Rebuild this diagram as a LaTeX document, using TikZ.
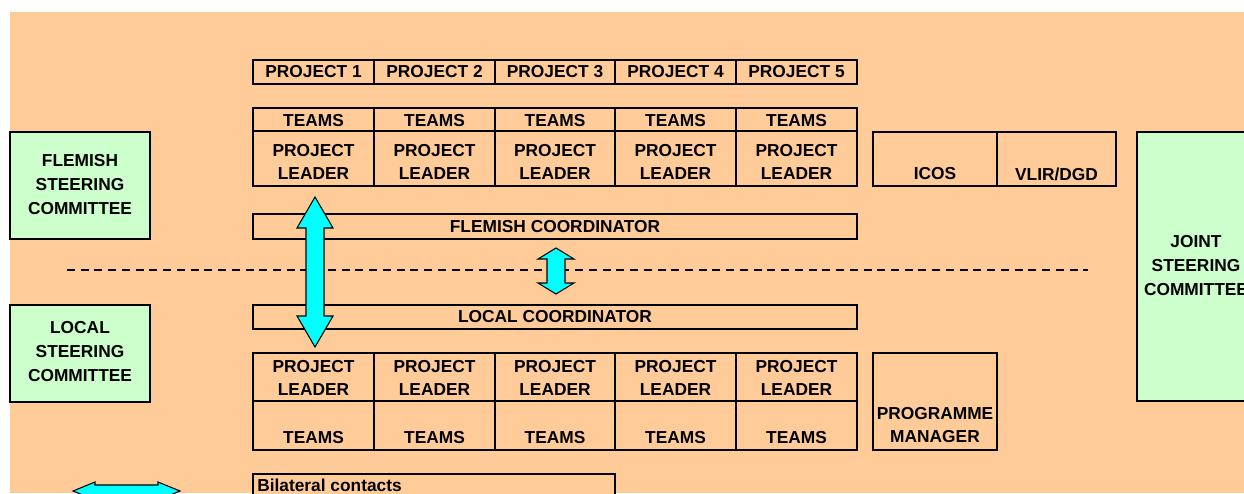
\documentclass[tikz,border=0pt]{standalone}
\usepackage{fontspec}
\setmainfont{Liberation Sans}
\definecolor{peach}{HTML}{FFCC99}
\definecolor{mint}{HTML}{CCFFCC}
\definecolor{aqua}{HTML}{00FFFF}
\tikzset{
  cell/.style={draw=black, line width=1.5pt, fill=peach, inner sep=0pt, outer sep=0pt},
  greencell/.style={cell, fill=mint},
  lbl/.style={font=\fontsize{13}{17.25}\selectfont\bfseries, align=center, inner sep=0pt},
  lblwide/.style={font=\fontsize{13}{18}\selectfont\bfseries, align=center, inner sep=0pt},
  blockarrow/.style={fill=aqua, draw=black, line width=0.8pt, line join=miter},
  divider/.style={draw=black, line width=1.1pt, dash pattern=on 6pt off 4.3pt}
}
% #1 style, #2 name, #3 x1, #4 y1, #5 x2, #6 y2 (pixel coordinates)
\newcommand\boxnode[6]{%
  \node[#1, minimum width={(#5-#3)*0.75pt}, minimum height={(#6-#4)*0.75pt}]
    (#2) at ({(#3+#5)/2},{(#4+#6)/2}) {};}
% vertical double block arrow: xc, ytop, ybot, head half width, shaft half width, head length
\newcommand\vdarr[6]{%
  \filldraw[blockarrow] (#1,#2) -- ({#1+#4},{#2+#6}) -- ({#1+#5},{#2+#6}) -- ({#1+#5},{#3-#6})
   -- ({#1+#4},{#3-#6}) -- (#1,#3) -- ({#1-#4},{#3-#6}) -- ({#1-#5},{#3-#6})
   -- ({#1-#5},{#2+#6}) -- ({#1-#4},{#2+#6}) -- cycle;}
% horizontal double block arrow: yc, xleft, xright, head half width, shaft half width, head length
\newcommand\hdarr[6]{%
  \filldraw[blockarrow] (#2,#1) -- ({#2+#6},{#1-#4}) -- ({#2+#6},{#1-#5}) -- ({#3-#6},{#1-#5})
   -- ({#3-#6},{#1-#4}) -- (#3,#1) -- ({#3-#6},{#1+#4}) -- ({#3-#6},{#1+#5})
   -- ({#2+#6},{#1+#5}) -- ({#2+#6},{#1+#4}) -- cycle;}
\begin{document}
\begin{tikzpicture}[x=0.75pt, y=-0.75pt]
\useasboundingbox (0,0) rectangle (1244,493);
\clip (0,0) rectangle (1244,493);
\fill[white] (0,0) rectangle (1244,493);
\fill[peach] (10,12) rectangle (1244,493);

% dashed divider
\coordinate (dl) at (67,270);
\coordinate (dr) at (1088,270);
\draw[divider] (dl) -- (dr);

% project columns
\foreach \i/\a/\b in {1/253/374, 2/374/495, 3/495/615, 4/615/736, 5/736/857}{
  \boxnode{cell}{proj\i}{\a}{60}{\b}{84}
  \node[lbl] (projt\i) at (proj\i) {PROJECT \i};
  \boxnode{cell}{fteam\i}{\a}{108}{\b}{131}
  \node[lbl] (fteamt\i) at ({(\a+\b)/2},120.5) {TEAMS};
  \boxnode{cell}{flead\i}{\a}{131}{\b}{186}
  \node[lbl] (fleadt\i) at ({(\a+\b)/2},161.5) {PROJECT\\LEADER};
  \boxnode{cell}{llead\i}{\a}{353}{\b}{401}
  \node[lbl] (lleadt\i) at ({(\a+\b)/2},377.5) {PROJECT\\LEADER};
  \boxnode{cell}{lteam\i}{\a}{401}{\b}{450}
  \node[lbl] (lteamt\i) at ({(\a+\b)/2},437.5) {TEAMS};
}

% coordinators
\boxnode{cell}{fcoord}{253}{214}{857}{239}
\node[lbl] (fcoordt) at (555,227) {FLEMISH COORDINATOR};
\boxnode{cell}{lcoord}{253}{305}{857}{329}
\node[lbl] (lcoordt) at (555,317) {LOCAL COORDINATOR};

% ICOS / VLIR
\boxnode{cell}{icos}{873}{132}{997}{186}
\node[lbl] (icost) at (935,174) {ICOS};
\boxnode{cell}{vlir}{997}{132}{1116}{186}
\node[lbl] (vlirt) at (1056.5,174) {VLIR/DGD};

% programme manager
\boxnode{cell}{pm}{873}{353}{997}{450}
\node[lbl, font=\fontsize{13}{16.8}\selectfont\bfseries] (pmt) at (935,425) {PROGRAMME\\MANAGER};

% steering committees
\boxnode{greencell}{fsc}{10}{132}{150}{239}
\node[lblwide] (fsct) at (80,184.7) {FLEMISH\\STEERING\\COMMITTEE};
\boxnode{greencell}{lsc}{10}{305}{150}{402}
\node[lblwide] (lsct) at (80,352) {LOCAL\\STEERING\\COMMITTEE};
\boxnode{greencell}{jsc}{1137}{132}{1252}{401}
\node[lblwide] (jsct) at (1196,266) {JOINT\\STEERING\\COMMITTEE};

% legend
\boxnode{cell}{bil}{253}{474}{615}{505}
\node[lbl, anchor=base west] (bilt) at (257,491.7) {Bilateral contacts};

% block arrows
\vdarr{315}{197}{347}{18}{9}{31}
\vdarr{556}{248}{294}{18}{9}{11}
\hdarr{491}{73}{180}{9}{6}{22}
\end{tikzpicture}
\end{document}
